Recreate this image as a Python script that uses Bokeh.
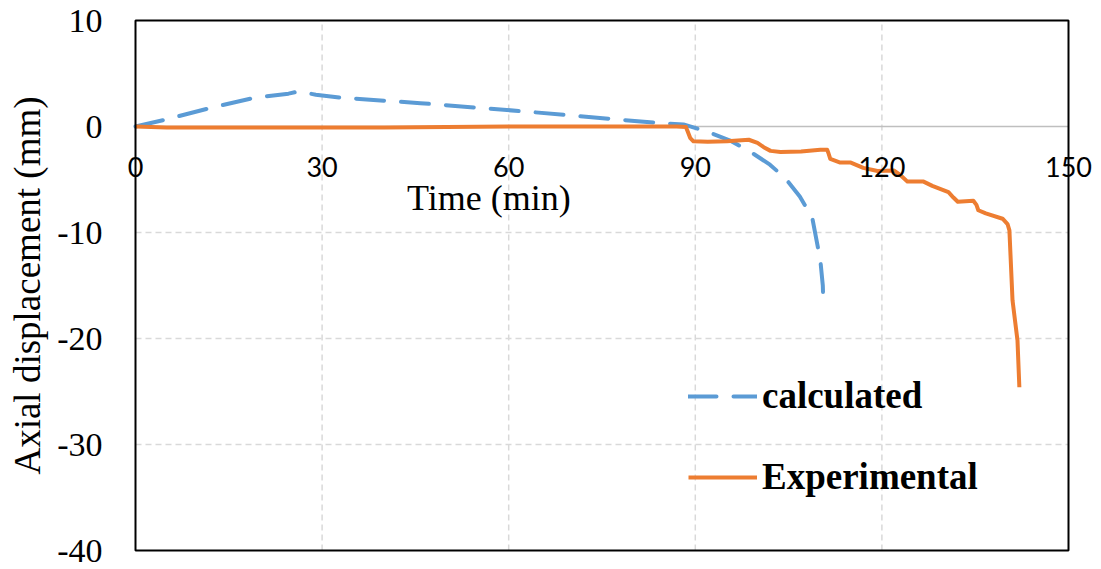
import math
from bokeh.plotting import figure
from bokeh.models import Range1d, Legend, LegendItem, Label, BoxAnnotation
from bokeh.embed import file_html
from bokeh.resources import INLINE

# Axial displacement of the column versus fire exposure time
calc_time = [0, 4.5, 11.7, 19, 24.6, 26.2, 29, 33.4, 45.8, 63, 77.5, 84.9, 88.1,
             92, 95.5, 98.9, 102, 104.5, 106.8, 108.8, 110.1, 110.5, 110.6]
calc_disp = [0, 0.6, 1.7, 2.7, 3.1, 3.3, 3.0, 2.7, 2.2, 1.4, 0.66, 0.3, 0.2,
             -0.5, -1.3, -2.4, -3.6, -4.9, -6.6, -8.6, -12.6, -15, -17]

exp_time = [0, 5, 10, 20, 30, 40, 50, 60, 70, 80, 87, 88.5, 89.2, 89.7, 92, 95.1,
            98.6, 100, 101, 102.1, 103.7, 107, 110.1, 111.2, 111.4, 111.7, 113.3,
            115, 117, 119.3, 121.9, 123, 124.1, 126.7, 128.1, 130.7, 131.5, 132.2,
            134.7, 135.2, 135.5, 136.7, 139.4, 140.2, 140.5, 141, 141.8, 142.1]
exp_disp = [0, -0.1, -0.1, -0.1, -0.1, -0.1, -0.05, 0, 0, 0, 0, -0.05, -1.1, -1.4,
            -1.45, -1.4, -1.25, -1.55, -1.95, -2.3, -2.4, -2.35, -2.2, -2.2, -2.5,
            -3.05, -3.4, -3.4, -3.9, -4.2, -4.15, -4.6, -5.2, -5.2, -5.6, -6.2,
            -6.7, -7.1, -7.0, -7.4, -7.9, -8.2, -8.7, -9.2, -9.8, -16.4, -20.2, -24.6]

x_ticks = [0, 30, 60, 90, 120, 150]
x_tick_labels = ["0", "30", "60", "90", "120", "150"]
y_ticks = [-40, -30, -20, -10, 0, 10]
y_tick_labels = ["-40", "-30", "-20", "-10", "0", "10"]

x_min, x_max = x_ticks[0], x_ticks[-1]
y_min, y_max = y_ticks[0], y_ticks[-1]

BLUE = "#5B9BD5"
ORANGE = "#ED7D31"
GRID = "#D9D9D9"
SERIF = "Liberation Serif"

W, H = 1101, 569
# plot box in pixels: left 135, right 1068, top 20, bottom 550
BOX_L, BOX_R, BOX_T, BOX_B = 135, 1068, 20, 550
kx = (x_max - x_min) / (BOX_R - BOX_L)
ky = (y_max - y_min) / (BOX_B - BOX_T)

# the drawing area spans the whole page so that labels outside the box stay visible
p = figure(width=W, height=H, output_backend="svg", toolbar_location=None,
           x_range=Range1d(x_min - BOX_L * kx, x_max + (W - BOX_R) * kx),
           y_range=Range1d(y_min - (H - BOX_B) * ky, y_max + BOX_T * ky),
           min_border=0, x_axis_type=None, y_axis_type=None)
p.outline_line_color = None
p.background_fill_color = "white"
p.border_fill_color = "white"
p.xgrid.visible = False
p.ygrid.visible = False

# dashed grid inside the box
gx = x_ticks[1:-1]
gy = [t for t in y_ticks[1:-1] if t != 0]
p.segment(x0=gx, y0=[y_min] * len(gx), x1=gx, y1=[y_max] * len(gx),
          line_color=GRID, line_width=1.5, line_dash="6 4")
p.segment(x0=[x_min] * len(gy), y0=gy, x1=[x_max] * len(gy), y1=gy,
          line_color=GRID, line_width=1.5, line_dash="6 4")

# horizontal axis line through zero
p.segment(x0=[x_min], y0=[0], x1=[x_max], y1=[0], line_color="#BFBFBF", line_width=1.5)

r_calc = p.line(calc_time, calc_disp, line_color=BLUE, line_width=4,
                line_dash="28 17", line_cap="round", line_join="round")
r_exp = p.line(exp_time, exp_disp, line_color=ORANGE, line_width=4,
               line_join="round")

# plot box
p.add_layout(BoxAnnotation(left=x_min, right=x_max, bottom=y_min, top=y_max,
                           fill_color=None, fill_alpha=0, line_color="black",
                           line_alpha=1.0, line_width=2))

# tick labels
for t, s in zip(x_ticks, x_tick_labels):
    p.add_layout(Label(x=t, y=0, y_offset=-40, text=s, text_align="center",
                       text_baseline="middle", text_font="Lato",
                       text_font_size="27px", text_color="black"))
for t, s in zip(y_ticks, y_tick_labels):
    p.add_layout(Label(x=x_min, y=t, x_offset=-33, text=s, text_align="right",
                       text_baseline="middle", text_font=SERIF,
                       text_font_size="34px", text_color="black"))

# axis titles
p.add_layout(Label(x=56.8, y=-6.75, text="Time (min)", text_align="center",
                   text_baseline="alphabetic", text_font=SERIF,
                   text_font_size="36px", text_color="black"))
p.add_layout(Label(x=x_min, y=(y_min + y_max) / 2, x_offset=-108,
                   text="Axial displacement (mm)", angle=math.pi / 2,
                   text_align="center", text_baseline="middle", text_font=SERIF,
                   text_font_size="37px", text_color="black"))

legend = Legend(items=[LegendItem(label="calculated", renderers=[r_calc]),
                       LegendItem(label="Experimental", renderers=[r_exp])],
                location=(688, 71), orientation="vertical",
                label_text_font=SERIF, label_text_font_style="bold",
                label_text_font_size="37px", label_text_color="black",
                glyph_width=69, glyph_height=40, label_height=40,
                label_standoff=5, spacing=38, padding=0, margin=0,
                border_line_color=None, background_fill_alpha=0)
p.add_layout(legend)

open("out.html", "w").write(file_html(p, INLINE))
